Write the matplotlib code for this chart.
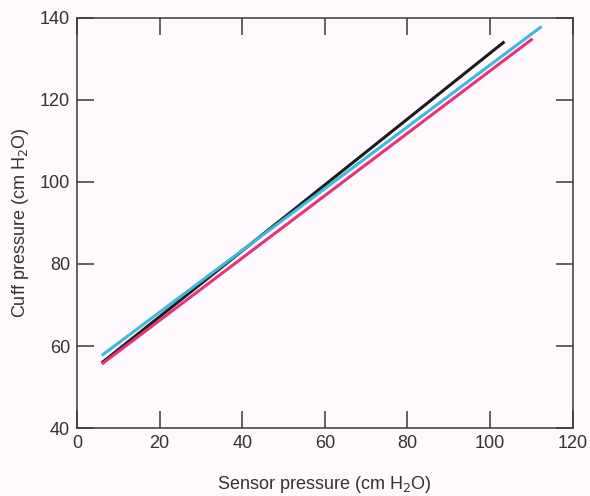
import matplotlib
matplotlib.use('Agg')
import matplotlib.pyplot as plt

plt.rcParams['font.family'] = ['Liberation Sans', 'DejaVu Sans']

# Extremos de cada recta (presión del sensor, presión del manguito)
black_x = [6, 103.5]
black_y = [55.9, 134.2]
cyan_x = [6, 112.5]
cyan_y = [57.7, 137.9]
magenta_x = [6, 110.3]
magenta_y = [55.6, 134.9]

xticks = [0, 20, 40, 60, 80, 100, 120]
yticks = [40, 60, 80, 100, 120, 140]

bg = '#fdf9fc'
fig = plt.figure(figsize=(5.9, 4.96), dpi=100, facecolor=bg)
ax = fig.add_axes([0.1305, 0.137, 0.840, 0.827], facecolor=bg)

ax.plot(black_x, black_y, color='#1c1c1c', lw=2.2, solid_capstyle='butt')
ax.plot(cyan_x, cyan_y, color='#3cb9de', lw=2.2, solid_capstyle='butt')
ax.plot(magenta_x, magenta_y, color='#e6337c', lw=2.2, solid_capstyle='butt')

ax.set_xlim(0, 120)
ax.set_ylim(40, 140)
ax.set_xticks(xticks)
ax.set_yticks(yticks)

for s in ax.spines.values():
    s.set_color('#3a3a3a')
    s.set_linewidth(1.1)

ax.tick_params(direction='in', length=12, width=1.1, color='#3a3a3a',
               top=True, right=True, labelsize=13, labelcolor='#333333', pad=5)

ax.set_xlabel('Sensor pressure (cm H$_2$O)', fontsize=13, color='#333333', labelpad=16)
ax.set_ylabel('Cuff pressure (cm H$_2$O)', fontsize=13, color='#333333', labelpad=6)

fig.savefig('out.png', dpi=100, facecolor=bg)
